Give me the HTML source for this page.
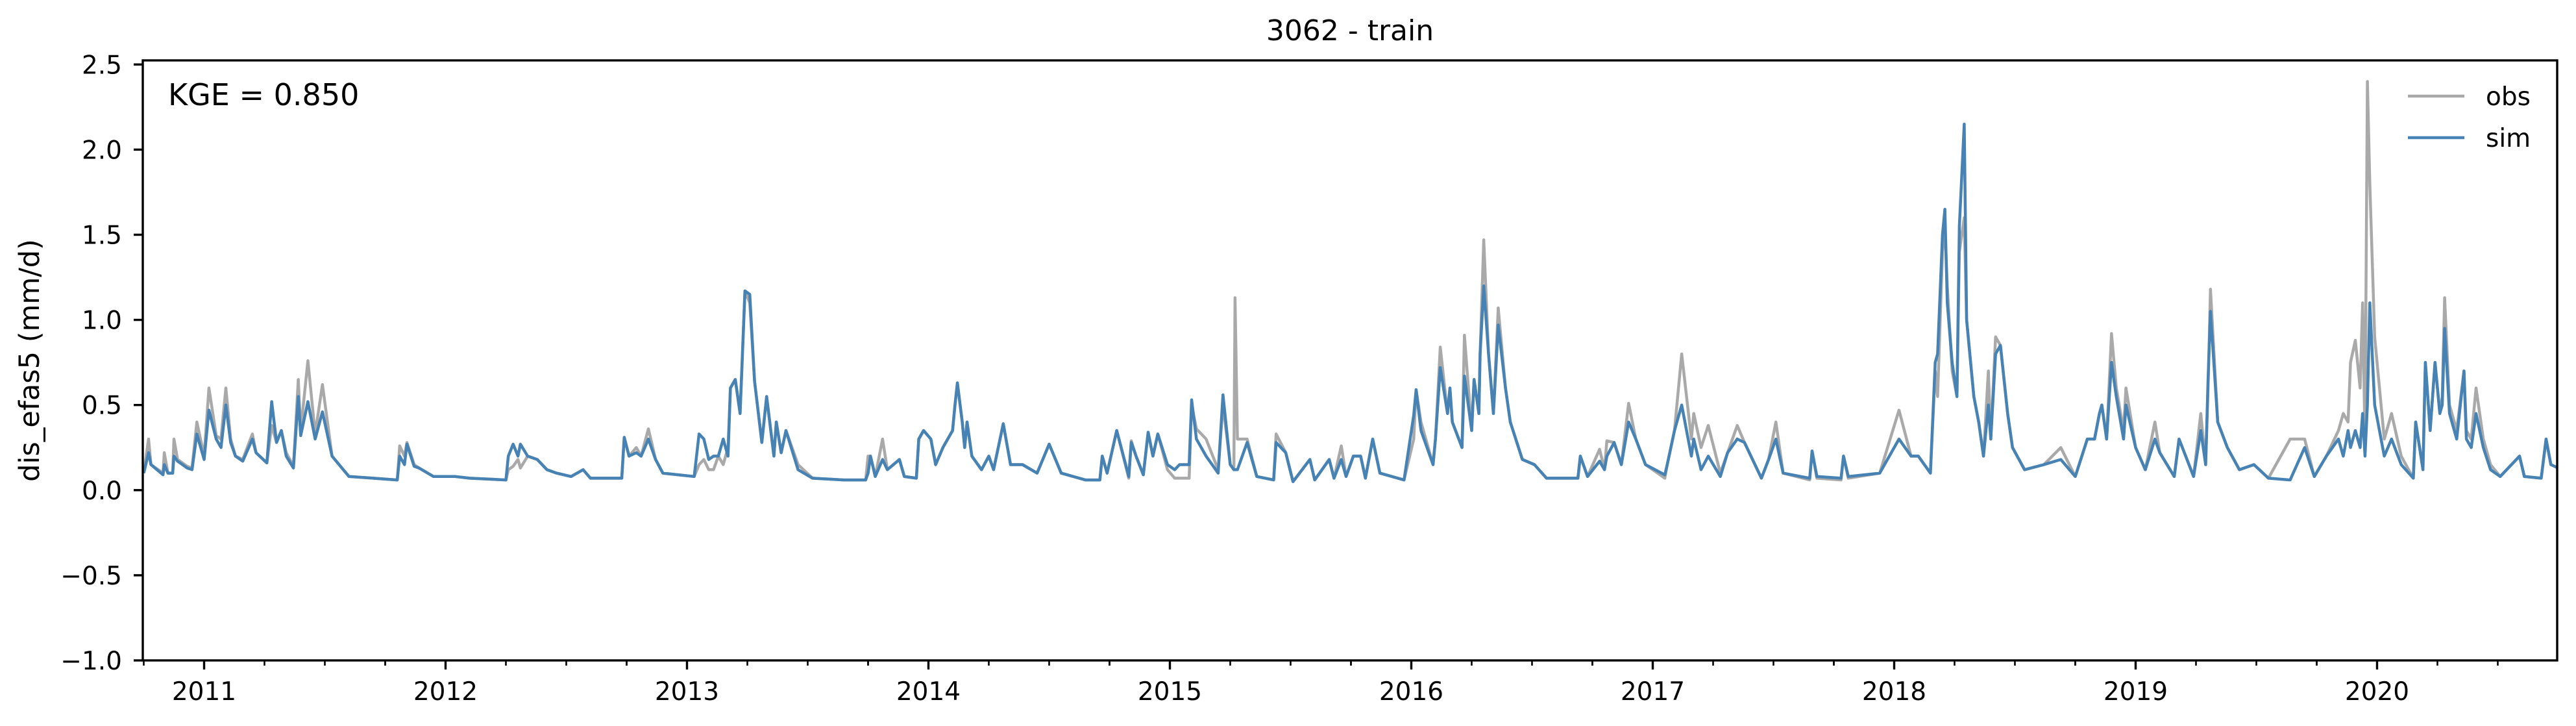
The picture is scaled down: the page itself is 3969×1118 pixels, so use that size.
<!DOCTYPE html>
<html><head><meta charset="utf-8"><style>
html,body{margin:0;padding:0;background:#fff}
svg{display:block}
text{font-family:"DejaVu Sans","Liberation Sans",sans-serif;fill:#000}
</style></head><body>
<svg id="chart" width="3969" height="1118" viewBox="0 0 3969 1118" xmlns="http://www.w3.org/2000/svg">
<text x="2080" y="62" font-size="44" text-anchor="middle">3062 - train</text>
<text transform="translate(60,555) rotate(-90)" font-size="43" text-anchor="middle">dis_efas5 (mm/d)</text>
<g id="plot"></g>
<text x="259" y="162" font-size="46">KGE = 0.850</text>
<g>
<line x1="3710" y1="148" x2="3797" y2="148" stroke="#a9a9a9" stroke-width="4.5"/>
<text x="3830" y="162" font-size="39">obs</text>
<line x1="3710" y1="212" x2="3797" y2="212" stroke="#4682b4" stroke-width="4.5"/>
<text x="3830" y="226" font-size="39">sim</text>
</g>
</svg>
<script>
const dates=[2010.75,2010.77,2010.78,2010.83,2010.835,2010.85,2010.87,2010.875,2010.89,2010.93,2010.95,2010.97,2011.0,2011.02,2011.05,2011.07,2011.09,2011.11,2011.13,2011.16,2011.20,2011.215,2011.23,2011.26,2011.28,2011.30,2011.32,2011.34,2011.37,2011.39,2011.40,2011.43,2011.46,2011.49,2011.53,2011.6,2011.7,2011.80,2011.81,2011.83,2011.84,2011.87,2011.89,2011.95,2012.04,2012.1,2012.25,2012.26,2012.28,2012.30,2012.31,2012.34,2012.38,2012.42,2012.46,2012.52,2012.57,2012.6,2012.73,2012.74,2012.76,2012.79,2012.81,2012.84,2012.87,2012.90,2013.03,2013.05,2013.07,2013.09,2013.11,2013.13,2013.15,2013.17,2013.18,2013.20,2013.22,2013.24,2013.26,2013.28,2013.31,2013.33,2013.36,2013.37,2013.39,2013.41,2013.46,2013.52,2013.65,2013.74,2013.75,2013.76,2013.78,2013.81,2013.83,2013.88,2013.90,2013.95,2013.96,2013.98,2014.01,2014.03,2014.06,2014.10,2014.11,2014.12,2014.14,2014.15,2014.16,2014.18,2014.22,2014.25,2014.27,2014.31,2014.34,2014.39,2014.45,2014.50,2014.55,2014.65,2014.71,2014.72,2014.74,2014.78,2014.83,2014.84,2014.86,2014.89,2014.91,2014.93,2014.95,2014.99,2015.02,2015.04,2015.08,2015.09,2015.11,2015.15,2015.20,2015.22,2015.25,2015.265,2015.27,2015.28,2015.32,2015.36,2015.43,2015.44,2015.48,2015.51,2015.58,2015.6,2015.66,2015.68,2015.71,2015.73,2015.76,2015.79,2015.81,2015.84,2015.87,2015.97,2016.01,2016.02,2016.04,2016.09,2016.10,2016.12,2016.15,2016.16,2016.17,2016.21,2016.22,2016.25,2016.26,2016.28,2016.285,2016.30,2016.32,2016.34,2016.36,2016.39,2016.41,2016.46,2016.51,2016.56,2016.69,2016.70,2016.73,2016.78,2016.80,2016.81,2016.84,2016.87,2016.90,2016.93,2016.97,2017.05,2017.06,2017.09,2017.12,2017.16,2017.17,2017.20,2017.23,2017.28,2017.31,2017.35,2017.38,2017.45,2017.48,2017.51,2017.54,2017.65,2017.66,2017.68,2017.78,2017.79,2017.81,2017.94,2018.02,2018.07,2018.10,2018.15,2018.17,2018.18,2018.20,2018.21,2018.22,2018.24,2018.26,2018.27,2018.29,2018.30,2018.33,2018.35,2018.37,2018.39,2018.40,2018.42,2018.44,2018.47,2018.49,2018.54,2018.62,2018.69,2018.75,2018.80,2018.83,2018.85,2018.86,2018.88,2018.90,2018.92,2018.95,2018.96,2019.00,2019.04,2019.08,2019.10,2019.16,2019.18,2019.24,2019.27,2019.29,2019.30,2019.31,2019.34,2019.38,2019.43,2019.49,2019.55,2019.64,2019.70,2019.74,2019.79,2019.84,2019.86,2019.88,2019.89,2019.91,2019.93,2019.94,2019.95,2019.96,2019.97,2019.99,2020.03,2020.06,2020.10,2020.15,2020.16,2020.19,2020.20,2020.22,2020.24,2020.26,2020.27,2020.28,2020.30,2020.33,2020.36,2020.37,2020.39,2020.41,2020.44,2020.47,2020.51,2020.59,2020.61,2020.68,2020.70,2020.72,2020.75];
const obs=[0.1,0.3,0.15,0.1,0.22,0.1,0.1,0.3,0.18,0.14,0.13,0.4,0.2,0.6,0.32,0.3,0.6,0.3,0.2,0.18,0.33,0.22,0.2,0.16,0.38,0.28,0.35,0.22,0.14,0.65,0.35,0.76,0.33,0.62,0.2,0.08,0.07,0.06,0.26,0.2,0.28,0.15,0.13,0.08,0.08,0.07,0.06,0.12,0.14,0.18,0.13,0.2,0.18,0.12,0.1,0.08,0.12,0.07,0.07,0.31,0.2,0.25,0.2,0.36,0.18,0.1,0.08,0.15,0.18,0.12,0.12,0.2,0.15,0.25,0.6,0.65,0.45,1.17,1.1,0.64,0.28,0.55,0.2,0.4,0.22,0.35,0.15,0.07,0.06,0.06,0.2,0.2,0.08,0.3,0.12,0.18,0.08,0.07,0.3,0.35,0.3,0.15,0.25,0.35,0.5,0.63,0.4,0.25,0.4,0.2,0.12,0.2,0.12,0.39,0.15,0.15,0.1,0.27,0.1,0.06,0.06,0.2,0.1,0.35,0.07,0.29,0.2,0.09,0.34,0.2,0.33,0.12,0.07,0.07,0.07,0.5,0.36,0.3,0.12,0.5,0.15,0.12,1.13,0.3,0.3,0.08,0.06,0.33,0.22,0.05,0.18,0.06,0.18,0.07,0.26,0.08,0.2,0.2,0.07,0.3,0.1,0.06,0.3,0.59,0.4,0.15,0.3,0.84,0.45,0.6,0.4,0.25,0.91,0.35,0.65,0.45,0.8,1.47,0.8,0.45,1.07,0.6,0.4,0.18,0.15,0.07,0.07,0.2,0.08,0.24,0.12,0.29,0.28,0.15,0.51,0.3,0.15,0.07,0.15,0.35,0.8,0.3,0.45,0.25,0.38,0.1,0.22,0.38,0.28,0.07,0.18,0.4,0.1,0.06,0.23,0.07,0.06,0.2,0.07,0.1,0.47,0.2,0.2,0.1,0.7,0.55,1.4,1.55,1.2,0.7,0.55,1.4,1.6,1.0,0.55,0.4,0.2,0.7,0.3,0.9,0.85,0.45,0.25,0.12,0.15,0.25,0.08,0.3,0.3,0.45,0.5,0.3,0.92,0.6,0.35,0.6,0.25,0.12,0.4,0.22,0.08,0.3,0.08,0.45,0.15,0.6,1.18,0.4,0.25,0.12,0.15,0.07,0.3,0.3,0.08,0.2,0.35,0.45,0.4,0.75,0.88,0.6,1.1,0.3,2.4,1.8,0.9,0.3,0.45,0.2,0.07,0.4,0.12,0.75,0.35,0.75,0.45,0.55,1.13,0.5,0.35,0.7,0.35,0.3,0.6,0.3,0.15,0.08,0.2,0.08,0.07,0.3,0.15,0.13];
const sim=[0.1,0.22,0.15,0.09,0.15,0.1,0.1,0.2,0.17,0.13,0.12,0.33,0.18,0.47,0.3,0.25,0.5,0.28,0.2,0.17,0.3,0.22,0.2,0.16,0.52,0.28,0.35,0.2,0.13,0.55,0.32,0.52,0.3,0.46,0.2,0.08,0.07,0.06,0.2,0.15,0.27,0.14,0.13,0.08,0.08,0.07,0.06,0.2,0.27,0.2,0.27,0.2,0.18,0.12,0.1,0.08,0.12,0.07,0.07,0.31,0.2,0.22,0.2,0.3,0.18,0.1,0.08,0.33,0.3,0.18,0.2,0.2,0.3,0.2,0.6,0.65,0.45,1.17,1.15,0.64,0.28,0.55,0.2,0.4,0.22,0.35,0.12,0.07,0.06,0.06,0.1,0.2,0.08,0.18,0.12,0.18,0.08,0.07,0.3,0.35,0.3,0.15,0.25,0.35,0.5,0.63,0.4,0.25,0.4,0.2,0.12,0.2,0.12,0.39,0.15,0.15,0.1,0.27,0.1,0.06,0.06,0.2,0.1,0.35,0.08,0.28,0.2,0.09,0.34,0.2,0.33,0.15,0.12,0.15,0.15,0.53,0.3,0.2,0.1,0.56,0.15,0.12,0.12,0.12,0.28,0.08,0.06,0.28,0.22,0.05,0.18,0.06,0.18,0.07,0.18,0.08,0.2,0.2,0.07,0.3,0.1,0.06,0.44,0.59,0.35,0.15,0.3,0.72,0.45,0.6,0.4,0.25,0.67,0.35,0.65,0.45,0.8,1.2,0.8,0.45,0.97,0.6,0.4,0.18,0.15,0.07,0.07,0.2,0.08,0.17,0.12,0.2,0.28,0.15,0.4,0.3,0.15,0.09,0.15,0.35,0.5,0.2,0.3,0.12,0.2,0.08,0.22,0.3,0.28,0.07,0.18,0.3,0.1,0.07,0.23,0.08,0.07,0.2,0.08,0.1,0.3,0.2,0.2,0.1,0.75,0.8,1.5,1.65,1.1,0.75,0.55,1.55,2.15,1.0,0.55,0.4,0.2,0.5,0.3,0.8,0.85,0.45,0.25,0.12,0.15,0.18,0.08,0.3,0.3,0.45,0.5,0.3,0.75,0.55,0.3,0.5,0.25,0.12,0.3,0.22,0.08,0.3,0.08,0.35,0.15,0.65,1.05,0.4,0.25,0.12,0.15,0.07,0.06,0.25,0.08,0.2,0.3,0.2,0.35,0.25,0.35,0.25,0.45,0.2,0.5,1.1,0.5,0.2,0.3,0.15,0.07,0.4,0.12,0.75,0.35,0.75,0.45,0.5,0.95,0.45,0.3,0.7,0.3,0.25,0.45,0.25,0.12,0.08,0.2,0.08,0.07,0.3,0.15,0.13];
const yTicks=[-1.0,-0.5,0.0,0.5,1.0,1.5,2.0,2.5];
const xYears=[2011,2012,2013,2014,2015,2016,2017,2018,2019,2020];

const L=220,R=3940,T=93,B=1017;
const X0=2010.746,X1=2020.746,Y0=-1.0,Y1=2.524;
const NS='http://www.w3.org/2000/svg';
function xs(v){return L+(v-X0)/(X1-X0)*(R-L);}
function ys(v){return B-(v-Y0)/(Y1-Y0)*(B-T);}
function mk(tag,attrs){const e=document.createElementNS(NS,tag);for(const k in attrs)e.setAttribute(k,attrs[k]);return e;}
const g=document.getElementById('plot');
const defs=mk('defs',{});const cp=mk('clipPath',{id:'clip'});cp.appendChild(mk('rect',{x:L,y:T,width:R-L,height:B-T}));defs.appendChild(cp);g.appendChild(defs);

function line(vals,color,name){
  let d='';for(let i=0;i<dates.length;i++){d+=(i?'L':'M')+xs(dates[i]).toFixed(1)+','+ys(vals[i]).toFixed(1);}
  const p=mk('path',{d:d,fill:'none',stroke:color,'stroke-width':4.5,'stroke-linejoin':'round','clip-path':'url(#clip)'});
  
  
  g.appendChild(p);
}
line(obs,'#a9a9a9','obs-line');
line(sim,'#4682b4','sim-line');

const ax=mk('rect',{x:L,y:T,width:R-L,height:B-T,fill:'none',stroke:'#000','stroke-width':3.4});


g.appendChild(ax);

yTicks.forEach(v=>{
  const y=ys(v);
  const t=mk('line',{x1:L-14,x2:L,y1:y,y2:y,stroke:'#000','stroke-width':3.4});
  
  
  g.appendChild(t);
  const tx=mk('text',{x:L-32,y:y+14,'font-size':39,'text-anchor':'end'});
  
  
  tx.textContent=(v<0?'\u2212':'')+Math.abs(v).toFixed(1);
  g.appendChild(tx);
});
xYears.forEach(yr=>{
  const x=xs(yr);
  const t=mk('line',{x1:x,x2:x,y1:B,y2:B+14,stroke:'#000','stroke-width':3.4});
  
  
  g.appendChild(t);
  const tx=mk('text',{x:x,y:1078,'font-size':39,'text-anchor':'middle'});
  
  
  tx.textContent=String(yr);
  g.appendChild(tx);
  [-0.25,0.25,0.5,0.75].forEach(q=>{
    const v=yr+q;if(v<X0-0.001||v>X1+0.001)return;
    const xm=xs(v);
    const m=mk('line',{x1:xm,x2:xm,y1:B,y2:B+8,stroke:'#000','stroke-width':2.6});
    
    
    g.appendChild(m);
  });
});
</script>
</body></html>
